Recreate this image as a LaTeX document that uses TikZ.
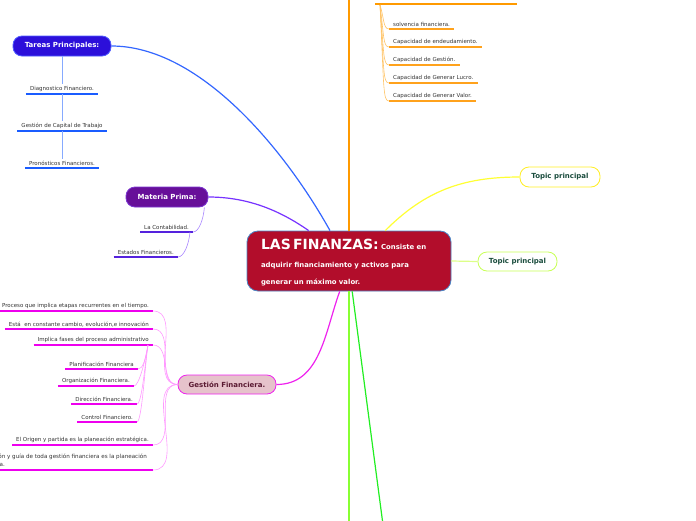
\documentclass[tikz,border=0pt]{standalone}
\usepackage{fontspec}
\setmainfont{DejaVu Sans}
\usepackage{xcolor}
\usetikzlibrary{positioning, calc}
\definecolor{finred}{HTML}{B20D2B}
\definecolor{finedge}{HTML}{4A84C4}
\definecolor{tarfill}{HTML}{2C0FDA}
\definecolor{taredge}{HTML}{4E5BFF}
\definecolor{tarlink}{HTML}{3366FF}
\definecolor{tarsub}{HTML}{86AAFF}
\definecolor{tarline}{HTML}{1A5CFF}
\definecolor{matfill}{HTML}{670F99}
\definecolor{matedge}{HTML}{7B35D0}
\definecolor{matlink}{HTML}{7733FF}
\definecolor{matsub}{HTML}{AA88FF}
\definecolor{matline}{HTML}{5522DD}
\definecolor{orglink}{HTML}{FF9A00}
\definecolor{orgsub}{HTML}{FFC468}
\definecolor{orgline}{HTML}{FFA21C}
\definecolor{yellink}{HTML}{FFFF33}
\definecolor{yeledge}{HTML}{FFEE22}
\definecolor{limlink}{HTML}{DDFF88}
\definecolor{limedge}{HTML}{C8FF55}
\definecolor{grnone}{HTML}{88FF33}
\definecolor{grntwo}{HTML}{22EE22}
\definecolor{maglink}{HTML}{EE22EE}
\definecolor{magsub}{HTML}{FF99FF}
\definecolor{magline}{HTML}{EE00EE}
\definecolor{gesfill}{HTML}{E6C3CB}
\definecolor{gestext}{HTML}{5A1A32}
\definecolor{topictext}{HTML}{1B4D3E}
\definecolor{leafgray}{HTML}{333333}

\tikzset{
  topic/.style={rounded corners=9pt, minimum height=20pt, inner sep=0pt,
    font=\fontsize{7}{8}\selectfont\bfseries, line width=0.8pt},
  leaf/.style={font=\fontsize{5.5}{6.5}\selectfont, text=leafgray,
    inner xsep=4pt, inner ysep=2pt},
  uline/.style={line width=1.3pt},
  link/.style={line width=1.2pt},
  sublink/.style={line width=0.6pt}
}

\begin{document}
\begin{tikzpicture}[x=1pt, y=-1pt]
  \useasboundingbox (0,0) rectangle (696,520);

  % central idea
  \node[fill=finred, draw=finedge, line width=0.8pt, rounded corners=11pt,
        minimum width=204pt, minimum height=60pt, text width=176pt, align=left,
        inner sep=0pt, text=white, font=\fontsize{6.9}{17.5}\selectfont\bfseries]
        (fin) at (349,261) {%
    \rule{0pt}{14pt}{\fontsize{14}{17.5}\selectfont LAS FINANZAS:} Consiste en\\
    adquirir financiamiento y activos para\\
    generar un máximo valor.};

  % main topics
  \node[topic, fill=tarfill, draw=taredge, text=white, minimum width=98pt] (tar) at (62,46) {Tareas Principales:};
  \node[topic, fill=matfill, draw=matedge, text=white, minimum width=82pt] (mat) at (167,197) {Materia Prima:};
  \node[topic, fill=gesfill, draw=maglink, text=gestext, minimum width=98pt, minimum height=19pt] (ges) at (227,384.5) {Gestión Financiera.};
  \node[topic, fill=white, draw=yeledge, text=topictext, minimum width=80pt] (top1) at (560,177) {Topic principal};
  \node[topic, fill=white, draw=limedge, text=topictext, minimum width=79pt, minimum height=19pt] (top2) at (517.5,261.5) {Topic principal};

  % free ends
  \coordinate (topend) at (349,-1);
  \coordinate (capl) at (375,4);
  \coordinate (capr) at (517,4);
  \coordinate (caps) at (380,5);
  \coordinate (grnend) at (349,521);
  \coordinate (grnend2) at (382.5,521);

  % links from the centre
  \draw[link, tarlink] (tar.east) .. controls (200,46) and (285,150) .. (fin.122);
  \draw[link, matlink] (mat.east) .. controls (250,197) and (282,212) .. (fin.143);
  \draw[draw=orglink, line width=1.6pt] (fin.north) -- (topend);
  \draw[link, yellink] (fin.40) to[out=45, in=180] (top1.west);
  \draw[link, limlink] (fin.east) -- (top2.west);
  \draw[draw=grnone, line width=1.6pt] (fin.south) -- (grnend);
  \draw[link, grntwo] (fin.-84) -- (grnend2);
  \draw[link, maglink] (ges.east) to[out=0, in=-110] (fin.-107);

  % Tareas Principales
  \foreach \n/\t/\y in {diag/Diagnostico Financiero./94,
                        capt/Gestión de Capital de Trabajo/131,
                        pron/Pronósticos Financieros./168}
    \node[leaf, anchor=south] (\n) at (62,\y) {\t};
  \foreach \n in {diag,capt,pron}
    \draw[uline, tarline] (\n.south west) -- (\n.south east);
  \draw[sublink, tarsub] (tar) -- (diag);
  \draw[sublink, tarsub] (diag.south) -- (capt);
  \draw[sublink, tarsub] (capt.south) -- (pron);

  % Materia Prima
  \node[leaf, anchor=south east] (cont) at (193,232) {La Contabilidad.};
  \node[leaf, anchor=south east] (esta) at (178,257) {Estados Financieros.};
  \foreach \n in {cont,esta}
    \draw[uline, matline] (\n.south west) -- (\n.south east);
  \draw[sublink, matsub] ($(mat.south east)+(-4,0)$) to[out=-95, in=0, out distance=12pt, in distance=6pt] (cont.south east);
  \draw[sublink, matsub] ($(cont.south east)+(-3,0)$) to[out=-95, in=0, out distance=12pt, in distance=6pt] (esta.south east);

  % top branch (orange)
  \draw[uline, orglink] (capl) -- (capr);
  \foreach \n/\t/\y in {solv/solvencia financiera./29,
                        endu/Capacidad de endeudamiento./47,
                        cges/Capacidad de Gestión./65,
                        lucr/Capacidad de Generar Lucro./83,
                        valo/Capacidad de Generar Valor./101}
  {
    \node[leaf, anchor=south west] (\n) at (389,\y) {\t};
    \draw[uline, orgline] (\n.south west) -- (\n.south east);
    \draw[sublink, orgsub] (caps) .. controls (384,\y-12) and (383,\y) .. (\n.south west);
  }

  % Gestión Financiera
  \foreach \n/\t/\y in {proc/Proceso que implica etapas recurrentes en el tiempo./311,
                        cons/Está\ \ en constante cambio{,} evolución{,}e innovación/329,
                        impl/Implica fases del proceso administrativo/345,
                        orig/El Origen y partida es la planeación estratégica./445}
  {
    \node[leaf, anchor=south east] (\n) at (153,\y) {\t};
    \draw[uline, magline] (\n.south west) -- (\n.south east);
    \draw[sublink, magsub] (ges.west) to[out=180, in=0] (\n.south east);
  }
  \node[leaf, anchor=south east, align=left, inner xsep=6pt, font=\fontsize{5.6}{8}\selectfont] (guia) at (153,470)
    {La dirección y guía de toda gestión financiera es la planeación\\estratégica.};
  \draw[uline, magline] (guia.south west) -- (guia.south east);
  \draw[sublink, magsub] (ges.west) to[out=180, in=0] (guia.south east);

  \foreach \n/\t/\x/\y in {plan/Planificación Financiera/138/369,
                           orga/Organización Financiera./134/386,
                           dire/Dirección Financiera./137/404,
                           ctrl/Control Financiero./137/422}
  {
    \node[leaf, anchor=south east] (\n) at (\x,\y) {\t};
    \draw[uline, magline] (\n.south west) -- (\n.south east);
    \draw[sublink, magsub] ($(impl.south east)+(-5,0)$) to[out=-100, in=0, out distance=15pt, in distance=5pt] (\n.south east);
  }
\end{tikzpicture}
\end{document}
